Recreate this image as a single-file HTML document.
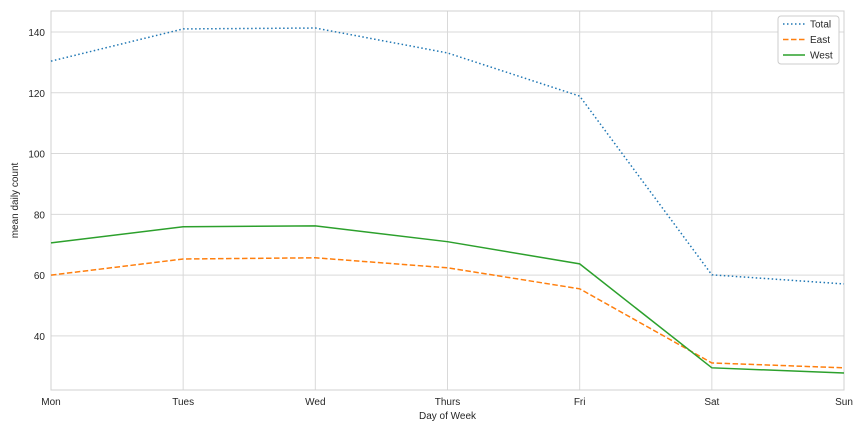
<!DOCTYPE html>
<html><head><meta charset="utf-8"><style>
body{margin:0;background:#fff;font-family:"Liberation Sans",sans-serif;}
svg text{font-family:"Liberation Sans",sans-serif;fill:#262626;}
</style></head><body>
<svg id="chart" width="864" height="432" xmlns="http://www.w3.org/2000/svg"></svg>
<script>
const categories=["Mon","Tues","Wed","Thurs","Fri","Sat","Sun"];
const totalValues=[130.4,141,141.3,133.1,118.9,60.1,57.1];
const eastValues=[60,65.3,65.7,62.4,55.5,31.1,29.5];
const westValues=[70.6,75.9,76.2,71,63.7,29.5,27.8];
const yTicks=[40,60,80,100,120,140];
const L=51,R=844,T=11,B=390;
const yMin=22.2,yMax=146.9;
const NS="http://www.w3.org/2000/svg";
const svg=document.getElementById('chart');
function x(i){return L+(R-L)*i/(categories.length-1);}
function y(v){return B-(v-yMin)/(yMax-yMin)*(B-T);}
function mk(t,a,p){const e=document.createElementNS(NS,t);for(const k in a)e.setAttribute(k,a[k]);(p||svg).appendChild(e);return e;}
const grid=mk('g',{});


yTicks.forEach(v=>{mk('line',{x1:L,x2:R,y1:y(v),y2:y(v),stroke:'#d9d9d9','stroke-width':1},grid);
const t=mk('text',{x:L-6,y:y(v)+4,'text-anchor':'end','font-size':10});t.textContent=v;

});
categories.forEach((c,i)=>{mk('line',{x1:x(i),x2:x(i),y1:T,y2:B,stroke:'#d9d9d9','stroke-width':1},grid);
const t=mk('text',{x:x(i),y:B+15,'text-anchor':'middle','font-size':10});t.textContent=c;

});
const frame=mk('rect',{x:L,y:T,width:R-L,height:B-T,fill:'none',stroke:'#d0d0d0'});


function series(vals,color,dash,name){const p=mk('polyline',{points:vals.map((v,i)=>x(i)+','+y(v)).join(' '),fill:'none',stroke:color,'stroke-width':1.5,'stroke-dasharray':dash});

}
series(totalValues,'#1f77b4','1.5,2.5','total-line');
series(eastValues,'#ff7f0e','5.5,2.5','east-line');
series(westValues,'#2ca02c','none','west-line');
const xt=mk('text',{x:(L+R)/2,y:419,'text-anchor':'middle','font-size':10});xt.textContent='Day of Week';


const yt=mk('text',{x:18,y:(T+B)/2,'text-anchor':'middle','font-size':10,transform:'rotate(-90 18 '+(T+B)/2+')'});yt.textContent='mean daily count';


const lg=mk('g',{});


mk('rect',{x:778,y:16,width:61,height:48,fill:'#fff',stroke:'#ccc',rx:3},lg);
[['Total','#1f77b4','1.5,2.5'],['East','#ff7f0e','5.5,2.5'],['West','#2ca02c','none']].forEach((d,i)=>{
const yy=24+i*15.5;
mk('line',{x1:783,x2:805,y1:yy,y2:yy,stroke:d[1],'stroke-width':1.5,'stroke-dasharray':d[2]},lg);
const t=mk('text',{x:810,y:yy+3.5,'font-size':10},lg);t.textContent=d[0];

});
</script>
</body></html>
